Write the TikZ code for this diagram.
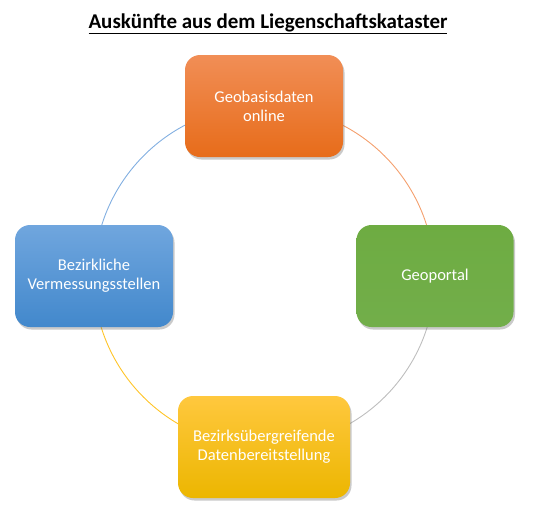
\documentclass[tikz,border=0pt]{standalone}
\usepackage{fontspec}
\setmainfont{Carlito}
\usetikzlibrary{shadows,backgrounds}
\definecolor{orT}{RGB}{241,142,86}
\definecolor{orB}{RGB}{231,108,26}
\definecolor{blT}{RGB}{112,166,222}
\definecolor{blB}{RGB}{66,136,204}
\definecolor{grT}{RGB}{110,172,66}
\definecolor{grB}{RGB}{114,174,74}
\definecolor{ylT}{RGB}{255,200,62}
\definecolor{ylB}{RGB}{236,182,0}
\definecolor{arcOr}{RGB}{244,160,110}
\definecolor{arcGr}{RGB}{190,190,190}
\definecolor{arcYl}{RGB}{255,196,40}
\definecolor{arcBl}{RGB}{130,175,225}
\tikzset{
  box/.style={rounded corners=15pt, minimum height=102pt, text=white,
    font=\fontsize{16.5}{19}\selectfont, align=center, inner sep=2pt,
    drop shadow={shadow xshift=1.5pt, shadow yshift=-2.5pt, opacity=0.35, fill=black!60}},
  ring/.style={line width=0.9pt}
}
\begin{document}
\begin{tikzpicture}[x=1pt,y=-1pt]
\useasboundingbox (0,0) rectangle (534,520);
\node[anchor=base, font=\fontsize{21}{25}\bfseries\selectfont] (title) at (268,28) {\underline{Auskünfte aus dem Liegenschaftskataster}};
\node[box, minimum width=158pt, top color=orT, bottom color=orB] (geo) at (264,106) {Geobasisdaten\\online};
\node[box, minimum width=157pt, top color=grT, bottom color=grB] (portal) at (435,276) {Geoportal};
\node[box, minimum width=172pt, top color=ylT, bottom color=ylB] (daten) at (264,447) {Bezirksübergreifende\\Datenbereitstellung};
\node[box, minimum width=158pt, top color=blT, bottom color=blB] (bezirk) at (94,276) {Bezirkliche\\Vermessungsstellen};
\begin{scope}[on background layer]
\draw[ring, arcOr] (geo.center) arc[start angle=90, end angle=0, radius=170.5pt];
\draw[ring, arcGr] (portal.center) arc[start angle=0, end angle=-90, radius=170.5pt];
\draw[ring, arcYl] (daten.center) arc[start angle=-90, end angle=-180, radius=170.5pt];
\draw[ring, arcBl] (bezirk.center) arc[start angle=180, end angle=90, radius=170.5pt];
\end{scope}
\end{tikzpicture}
\end{document}
